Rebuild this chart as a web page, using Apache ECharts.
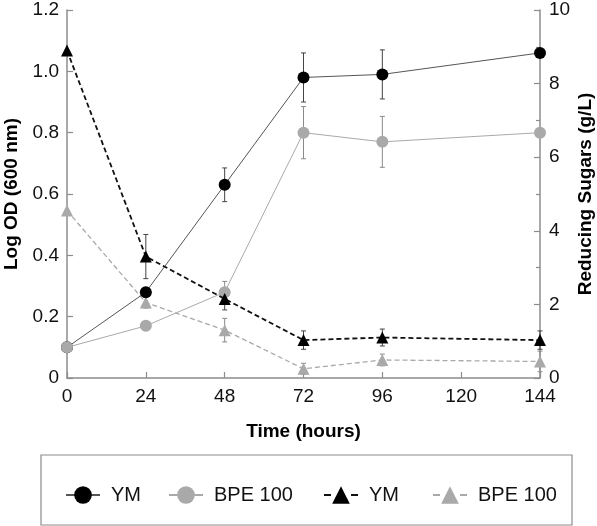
<!DOCTYPE html>
<html><head><meta charset="utf-8">
<script src="https://cdn.jsdelivr.net/npm/echarts@6/dist/echarts.min.js"></script>
<style>html,body{margin:0;padding:0;background:#fff}#c{width:597px;height:526px}</style>
</head><body><div id="c"></div>
<script>
const times = [0, 24, 48, 72, 96, 144];
const odYM = [0.10, 0.28, 0.63, 0.98, 0.99, 1.06];
const odYMErr = [0, 0, 0.055, 0.08, 0.08, 0];
const odBPE = [0.10, 0.17, 0.28, 0.80, 0.77, 0.80];
const odBPEErr = [0, 0, 0.035, 0.085, 0.083, 0];
const sugYM = [8.9, 3.3, 2.15, 1.03, 1.1, 1.03];
const sugYMErr = [0, 0.6, 0.3, 0.25, 0.23, 0.25];
const sugBPE = [4.55, 2.05, 1.3, 0.25, 0.49, 0.45];
const sugBPEErr = [0, 0.15, 0.32, 0.15, 0.16, 0.28];
const legendLabels = {odYM: 'YM', odBPE: 'BPE 100', sugYM: 'YM', sugBPE: 'BPE 100'};

const FONT = 'Liberation Sans, Arial, Helvetica, sans-serif';
const AXC = '#8c8c8c';
const BLACK = '#000000';
const GRAY = '#a9a9a9';

function pts(vals) { return times.map((t, i) => [t, vals[i]]); }
function errs(vals, e) {
  const out = [];
  times.forEach((t, i) => { if (e[i] > 0) out.push([t, vals[i] - e[i], vals[i] + e[i]]); });
  return out;
}
function errRender(color) {
  return function (params, api) {
    const x = api.value(0), lo = api.value(1), hi = api.value(2);
    const a = api.coord([x, lo]), b = api.coord([x, hi]);
    const w = 2.5;
    const st = {stroke: color, lineWidth: 1};
    return {type: 'group', children: [
      {type: 'line', shape: {x1: a[0], y1: a[1], x2: b[0], y2: b[1]}, style: st},
      {type: 'line', shape: {x1: a[0] - w, y1: a[1], x2: a[0] + w, y2: a[1]}, style: st},
      {type: 'line', shape: {x1: b[0] - w, y1: b[1], x2: b[0] + w, y2: b[1]}, style: st}
    ]};
  };
}
function legendFor(name, left, dashed) {
  const l = {
    data: [name], left: left, top: 480, itemWidth: 34, itemHeight: 22, selectedMode: false,
    formatter: n => legendLabels[n],
    textStyle: {fontFamily: FONT, fontSize: 20, color: '#111', padding: [0, 0, 0, 6]}
  };
  if (dashed) l.lineStyle = {type: [7, 20]};
  return l;
}

const chart = echarts.init(document.getElementById('c'), null, {renderer: 'canvas'});
chart.setOption({
  animation: false,
  backgroundColor: '#fff',
  grid: {left: 67, right: 57, top: 10, bottom: 148, containLabel: false, outerBoundsMode: 'none'},
  graphic: [{type: 'rect', shape: {x: 41, y: 455, width: 531, height: 70}, style: {fill: 'none', stroke: '#8c8c8c', lineWidth: 1.2}}],
  legend: [
    legendFor('odYM', 60, false),
    legendFor('odBPE', 163, false),
    legendFor('sugYM', 318, true),
    legendFor('sugBPE', 427, true)
  ],
  xAxis: {
    type: 'value', min: 0, max: 144, interval: 24,
    name: 'Time (hours)', nameLocation: 'middle', nameGap: 44, nameMoveOverlap: false,
    nameTextStyle: {fontFamily: FONT, fontSize: 19, fontWeight: 'bold', color: '#000'},
    axisLine: {lineStyle: {color: AXC, width: 1.5}},
    axisTick: {inside: true, length: 6, lineStyle: {color: AXC, width: 1.2}},
    axisLabel: {fontFamily: FONT, fontSize: 19, color: '#111', margin: 9},
    splitLine: {show: false}
  },
  yAxis: [
    {
      type: 'value', min: 0, max: 1.2, interval: 0.2, position: 'left',
      name: 'Log OD (600 nm)', nameLocation: 'middle', nameGap: 46, nameRotate: 90, nameMoveOverlap: false,
      nameTextStyle: {fontFamily: FONT, fontSize: 19, fontWeight: 'bold', color: '#000'},
      axisLine: {show: true, lineStyle: {color: AXC, width: 1.5}},
      axisTick: {show: true, inside: true, length: 6, lineStyle: {color: AXC, width: 1.2}},
      axisLabel: {fontFamily: FONT, fontSize: 19, color: '#111', margin: 8,
        formatter: v => v === 0 ? '0' : v.toFixed(1)},
      splitLine: {show: false}
    },
    {
      type: 'value', min: 0, max: 10, interval: 2, position: 'right',
      name: 'Reducing Sugars (g/L)', nameLocation: 'middle', nameGap: 36, nameRotate: 90, nameMoveOverlap: false,
      nameTextStyle: {fontFamily: FONT, fontSize: 19, fontWeight: 'bold', color: '#000'},
      axisLine: {show: true, lineStyle: {color: AXC, width: 1.5}},
      axisTick: {show: true, inside: true, length: 6, lineStyle: {color: AXC, width: 1.2}},
      minorTick: {show: true, splitNumber: 2, length: 4, lineStyle: {color: AXC, width: 1.2}},
      axisLabel: {fontFamily: FONT, fontSize: 19, color: '#111', margin: 9},
      splitLine: {show: false}
    }
  ],
  series: [
    {name: 'sugBPE', type: 'line', yAxisIndex: 1, data: pts(sugBPE), z: 2,
      symbol: 'triangle', symbolSize: 12,
      itemStyle: {color: GRAY}, lineStyle: {color: GRAY, width: 1.3, type: [5, 3]}},
    {type: 'custom', yAxisIndex: 1, data: errs(sugBPE, sugBPEErr), renderItem: errRender('#8a8a8a'),
      encode: {x: 0, y: [1, 2]}, z: 1, silent: true},
    {name: 'odYM', type: 'line', yAxisIndex: 0, data: pts(odYM), z: 3,
      symbol: 'circle', symbolSize: 12,
      itemStyle: {color: BLACK}, lineStyle: {color: '#555', width: 1}},
    {type: 'custom', yAxisIndex: 0, data: errs(odYM, odYMErr), renderItem: errRender('#444'),
      encode: {x: 0, y: [1, 2]}, z: 1, silent: true},
    {name: 'odBPE', type: 'line', yAxisIndex: 0, data: pts(odBPE), z: 4,
      symbol: 'circle', symbolSize: 12,
      itemStyle: {color: GRAY}, lineStyle: {color: GRAY, width: 1}},
    {type: 'custom', yAxisIndex: 0, data: errs(odBPE, odBPEErr), renderItem: errRender('#8a8a8a'),
      encode: {x: 0, y: [1, 2]}, z: 1, silent: true},
    {name: 'sugYM', type: 'line', yAxisIndex: 1, data: pts(sugYM), z: 5,
      symbol: 'triangle', symbolSize: 12,
      itemStyle: {color: BLACK}, lineStyle: {color: '#111', width: 1.8, type: [5, 3]}},
    {type: 'custom', yAxisIndex: 1, data: errs(sugYM, sugYMErr), renderItem: errRender('#444'),
      encode: {x: 0, y: [1, 2]}, z: 1, silent: true}
  ]
});
</script></body></html>
